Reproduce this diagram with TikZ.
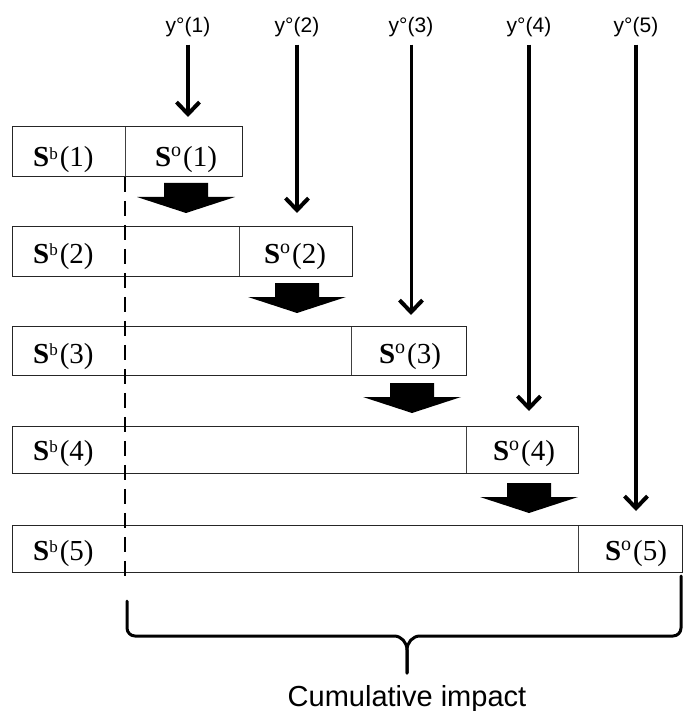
\documentclass[tikz,border=0pt]{standalone}
\usepackage{fontspec}
\setmainfont{Liberation Serif}
\newfontfamily\labelsans{Liberation Sans}
\usetikzlibrary{arrows.meta}
\newcommand\mysupb{\raisebox{7.6pt}{\fontsize{17}{20}\selectfont b}\hspace{2pt}}
\newcommand\mysupo{\raisebox{10pt}{\fontsize{20}{22}\selectfont o}\hspace{2pt}}
\begin{document}
\begin{tikzpicture}[x=1pt,y=-1pt,
  rowbox/.style={draw=black!85, line width=1.4pt, inner sep=0pt, anchor=north west},
  ocell/.style={draw=black!75, line width=0.9pt, inner sep=0pt, anchor=north west},
  slabel/.style={font=\fontsize{29}{34}\selectfont, inner sep=0pt, anchor=base},
  blabel/.style={slabel, anchor=base west},
  ylabel/.style={font=\labelsans\fontsize{21}{25}\selectfont, inner sep=1pt, anchor=base},
  thinarrow/.style={line width=4pt, -{Straight Barb[length=12pt,width=23pt,line width=4pt]}, shorten <=6pt},
  dashline/.style={line width=2.5pt, dash pattern=on 15pt off 9pt},
  bracestyle/.style={line width=3pt, line cap=round, line join=round},
  pics/fatarrow/.style={code={\fill[black] (-22,0) -- (22,0) -- (22,14) -- (49,14) -- (0,30) -- (-49,14) -- (-22,14) -- cycle;}}
]
\useasboundingbox (0,0) rectangle (684,711);

% row 1
\node[ocell, minimum width=117pt, minimum height=50pt] (o1) at (125,126) {};
\node[rowbox, minimum width=230pt, minimum height=50pt] (row1) at (12,126) {};
\node[blabel] (b1l) at (33,167) {\textbf{S}\mysupb(1)};
\node[slabel] (o1l) at (186,167) {\textbf{S}\mysupo(1)};
% row 2
\node[ocell, minimum width=113pt, minimum height=50pt] (o2) at (239,226) {};
\node[rowbox, minimum width=340pt, minimum height=50pt] (row2) at (12,226) {};
\node[blabel] (b2l) at (33,263) {\textbf{S}\mysupb(2)};
\node[slabel] (o2l) at (295,263) {\textbf{S}\mysupo(2)};
% row 3
\node[ocell, minimum width=115pt, minimum height=49pt] (o3) at (351,326) {};
\node[rowbox, minimum width=454pt, minimum height=49pt] (row3) at (12,326) {};
\node[blabel] (b3l) at (33,363) {\textbf{S}\mysupb(3)};
\node[slabel] (o3l) at (410,363) {\textbf{S}\mysupo(3)};
% row 4
\node[ocell, minimum width=112pt, minimum height=47pt] (o4) at (466,426) {};
\node[rowbox, minimum width=566pt, minimum height=47pt] (row4) at (12,426) {};
\node[blabel] (b4l) at (33,460) {\textbf{S}\mysupb(4)};
\node[slabel] (o4l) at (524,460) {\textbf{S}\mysupo(4)};
% row 5
\node[ocell, minimum width=104pt, minimum height=47pt] (o5) at (578,525) {};
\node[rowbox, minimum width=670pt, minimum height=47pt] (row5) at (12,525) {};
\node[blabel] (b5l) at (33,560) {\textbf{S}\mysupb(5)};
\node[slabel] (o5l) at (636,560) {\textbf{S}\mysupo(5)};

% top labels
\node[ylabel] (y1) at (188,33) {y°(1)};
\node[ylabel] (y2) at (297,33) {y°(2)};
\node[ylabel] (y3) at (411,33) {y°(3)};
\node[ylabel] (y4) at (529,33) {y°(4)};
\node[ylabel] (y5) at (636,33) {y°(5)};

% thin arrows
\draw[thinarrow, line width=4.5pt, shorten >=9pt] (y1.south) -- (y1.south |- o1.north);
\draw[thinarrow, shorten >=13pt] (y2.south) -- (y2.south |- o2.north);
\draw[thinarrow, line width=3pt, shorten >=11pt] (y3.south) -- (y3.south |- o3.north);
\draw[thinarrow, shorten >=15pt] (y4.south) -- (y4.south |- o4.north);
\draw[thinarrow, shorten >=14pt] (y5.south) -- (y5.south |- o5.north);

% block arrows
\pic at (186,183) {fatarrow};
\pic at (297,283) {fatarrow};
\pic at (412,383) {fatarrow};
\pic at (529,483) {fatarrow};

% dashed line
\coordinate (dashend) at (125,583);
\draw[dashline] (o1.south west) -- (dashend);

% brace
\draw[bracestyle] (127,601) -- (127,628) to[out=-90,in=180] (135,636) -- (394,636) to[out=0,in=90] (407,650) -- (407,673);
\draw[bracestyle] (407,673) -- (407,650) to[out=90,in=180] (420,636) -- (673,636) to[out=0,in=-90] (681,628) -- (681,576);

\node[font=\labelsans\fontsize{29}{34}\selectfont, inner sep=0pt, anchor=base] (cum) at (407,706) {Cumulative impact};
\end{tikzpicture}
\end{document}
